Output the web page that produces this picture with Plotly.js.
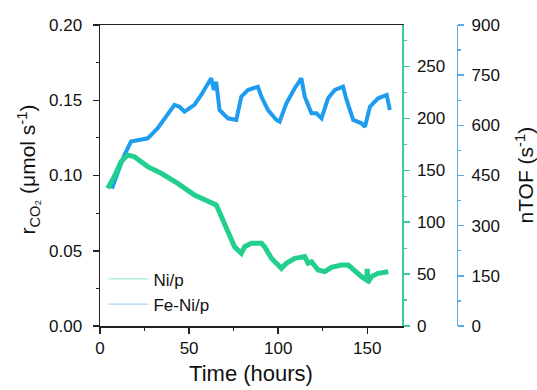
<!DOCTYPE html>
<html><head><meta charset="utf-8">
<script src="https://cdn.plot.ly/plotly-3.0.1.min.js"></script>
<style>html,body{margin:0;padding:0;background:#fff}#chart{width:537px;height:390px}</style>
</head><body><div id="chart"></div>
<script>
// Ni/p : r_CO2 (umol s-1) vs time (hours)
const niTime = [4.3, 8.0, 11.8, 15.5, 19.3, 26.8, 34.3, 43.6, 53.0, 65.2, 66.1, 68.1, 71.8, 75.5, 79.3, 81.2, 84.9, 90.6, 92.4, 96.2, 101.8, 104.6, 109.3, 114.9, 116.8, 118.7, 122.4, 126.2, 129.9, 135.5, 139.3, 142.1, 146.8, 149.6, 150.0, 150.4, 152.4, 156.1, 161.8];
const niRate = [0.0915, 0.0992, 0.1092, 0.1136, 0.1125, 0.1059, 0.1015, 0.0948, 0.0870, 0.0804, 0.0782, 0.0726, 0.0616, 0.0527, 0.0483, 0.0527, 0.0550, 0.0550, 0.0527, 0.0450, 0.0383, 0.0417, 0.0450, 0.0461, 0.0417, 0.0427, 0.0372, 0.0361, 0.0390, 0.0405, 0.0405, 0.0372, 0.0328, 0.0306, 0.0380, 0.0290, 0.0328, 0.0350, 0.0361];
// Fe-Ni/p : r_CO2 (umol s-1) vs time (hours)
const feniTime = [4.3, 7.1, 9.9, 13.7, 17.4, 21.1, 26.8, 32.4, 38.0, 41.8, 44.6, 47.4, 53.0, 56.8, 62.4, 63.9, 65.2, 67.1, 71.8, 76.5, 79.3, 83.0, 88.6, 90.6, 94.3, 99.0, 100.8, 104.6, 109.3, 113.0, 114.9, 118.7, 121.5, 124.3, 128.0, 131.8, 136.4, 138.4, 142.1, 146.8, 148.7, 151.5, 156.1, 160.9, 162.7];
const feniRate = [0.0937, 0.0926, 0.1017, 0.1136, 0.1225, 0.1236, 0.1247, 0.1314, 0.1413, 0.1469, 0.1457, 0.1424, 0.1469, 0.1535, 0.1646, 0.1568, 0.1623, 0.1435, 0.1380, 0.1369, 0.1524, 0.1568, 0.1590, 0.1524, 0.1435, 0.1369, 0.1358, 0.1480, 0.1580, 0.1646, 0.1524, 0.1413, 0.1413, 0.1380, 0.1513, 0.1568, 0.1590, 0.1502, 0.1369, 0.1347, 0.1324, 0.1457, 0.1513, 0.1535, 0.1435];
const seriesNames = ['Ni/p', 'Fe-Ni/p'];
const xTitle = 'Time (hours)';
const yLeftTitle = 'r<sub>CO₂</sub> (μmol s<sup>-1</sup>)';
const yRightTitle = 'nTOF (s<sup>-1</sup>)';

const GREEN = '#22CF8C', BLUE = '#1E9DF0';
const GREEN_AX = '#3DC9A3', BLUE_AX = '#55ACE6';
const FONT = 'Arial, "Liberation Sans", sans-serif';
const tickFont = {family: FONT, size: 17, color: '#111'};

const traces = [
  {x: feniTime, y: feniRate, mode: 'lines', line: {color: BLUE, width: 4}, showlegend: false, hoverinfo: 'skip'},
  {x: niTime, y: niRate, mode: 'lines', line: {color: GREEN, width: 5}, showlegend: false, hoverinfo: 'skip'},
  {x: [null], y: [null], mode: 'lines', name: seriesNames[0], line: {color: '#A6E8D3', width: 1.2}},
  {x: [null], y: [null], mode: 'lines', name: seriesNames[1], line: {color: '#A8D6F2', width: 1.2}}
];

const layout = {
  width: 537, height: 390,
  margin: {l: 100, r: 10, t: 25, b: 64},
  paper_bgcolor: '#fff', plot_bgcolor: '#fff',
  font: {family: FONT, color: '#111'},
  showlegend: true,
  legend: {x: 0.008, xanchor: 'left', y: 0.012, yanchor: 'bottom', bgcolor: 'rgba(0,0,0,0)',
           font: {family: FONT, size: 17, color: '#111'}, itemwidth: 40, tracegroupgap: 0},
  xaxis: {domain: [0, 0.7073], range: [0, 169.5], showgrid: false, zeroline: false,
          showline: true, linecolor: '#222', linewidth: 1.5, mirror: true,
          ticks: 'outside', ticklen: 6, tickwidth: 1.5, tickcolor: '#222', dtick: 50, tick0: 0,
          minor: {ticks: 'outside', ticklen: 3, dtick: 25, tickcolor: '#222', tickwidth: 1.2},
          tickfont: tickFont, ticklabelstandoff: 0,
          title: {text: xTitle, font: {family: FONT, size: 22, color: '#111'}, standoff: 8}},
  yaxis: {range: [0, 0.2], showgrid: false, zeroline: false,
          showline: true, linecolor: '#222', linewidth: 1.5,
          ticks: 'outside', ticklen: 6, tickwidth: 1.5, tickcolor: '#222', dtick: 0.05, tick0: 0,
          tickformat: '.2f',
          minor: {ticks: 'outside', ticklen: 3, dtick: 0.025, tickcolor: '#222', tickwidth: 1.2},
          tickfont: tickFont, ticklabelstandoff: 7},
  yaxis2: {overlaying: 'y', side: 'right', anchor: 'x', range: [0, 290], showgrid: false, zeroline: false,
           showline: true, linecolor: GREEN_AX, linewidth: 1.5,
           ticks: 'outside', ticklen: 6, tickwidth: 1.5, tickcolor: GREEN_AX, dtick: 50, tick0: 0,
           minor: {ticks: 'outside', ticklen: 3, dtick: 25, tickcolor: GREEN_AX, tickwidth: 1.2},
           tickfont: tickFont, ticklabelstandoff: 4},
  yaxis3: {overlaying: 'y', side: 'right', anchor: 'free', position: 0.8353, range: [0, 900],
           showgrid: false, zeroline: false,
           showline: true, linecolor: BLUE_AX, linewidth: 1.5,
           ticks: 'outside', ticklen: 6, tickwidth: 1.5, tickcolor: BLUE_AX, dtick: 150, tick0: 0,
           minor: {ticks: 'outside', ticklen: 3, dtick: 75, tickcolor: BLUE_AX, tickwidth: 1.2},
           tickfont: tickFont, ticklabelstandoff: 4},
  annotations: [
    {text: yLeftTitle, xref: 'paper', yref: 'paper', x: -0.1686, y: 0.52, xanchor: 'center', yanchor: 'middle',
     textangle: -90, showarrow: false, font: {family: FONT, size: 21, color: '#111'}},
    {text: yRightTitle, xref: 'paper', yref: 'paper', x: 0.993, y: 0.50, xanchor: 'center', yanchor: 'middle',
     textangle: -90, showarrow: false, font: {family: FONT, size: 21, color: '#111'}}
  ]
};
// axis hooks so the two right-hand axes render
traces.push({x: [null], y: [null], yaxis: 'y2', showlegend: false, hoverinfo: 'skip'});
traces.push({x: [null], y: [null], yaxis: 'y3', showlegend: false, hoverinfo: 'skip'});
Plotly.newPlot('chart', traces, layout, {displayModeBar: false, staticPlot: true});
</script>
</body></html>
